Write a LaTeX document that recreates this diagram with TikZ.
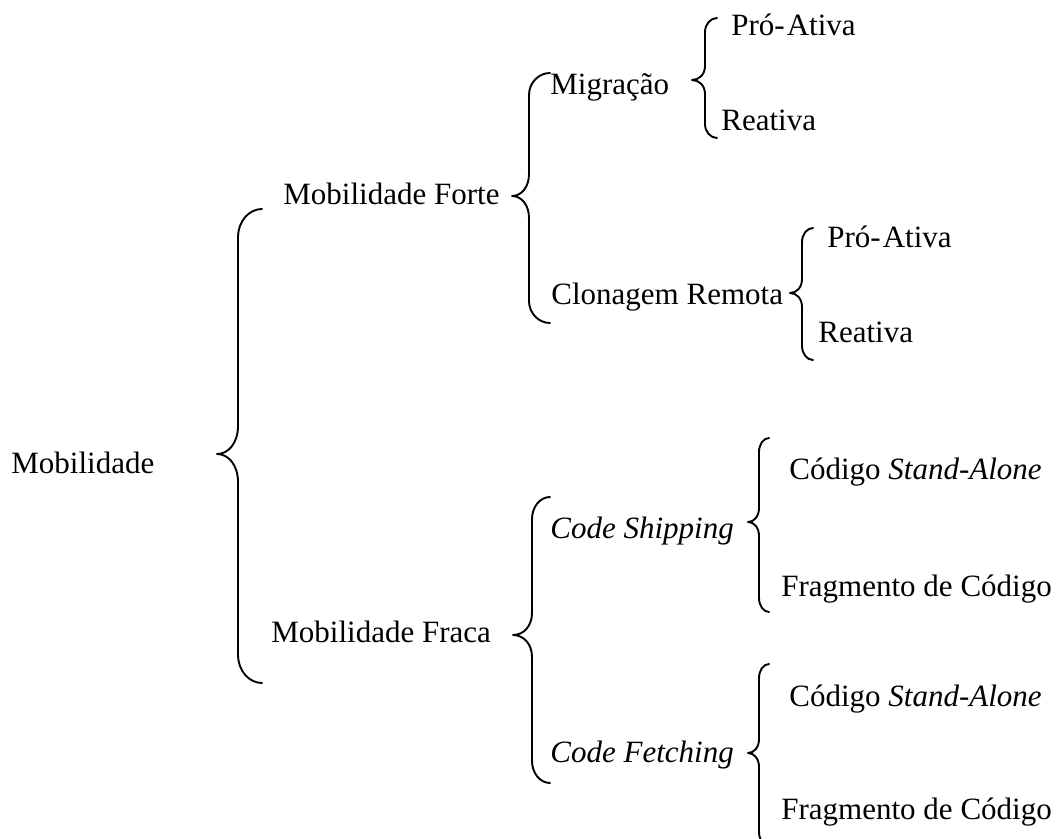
\documentclass[tikz,border=0pt]{standalone}
\usepackage{fontspec}
\setmainfont{Liberation Serif}

% Word-style curly bracket opening to the right.
% #1 end x, #2 spine x, #3 tip x, #4 top y, #5 tip y, #6 bottom y, #7 bend radius
\newcommand{\curlybracket}[7]{%
  \draw[bracestroke]
    (#1,#4) .. controls ({#2+0.45*(#1-#2)},#4) and (#2,{#4+0.45*#7}) .. (#2,{#4+#7})
    -- (#2,{#5-#7})
    .. controls (#2,{#5-0.4*#7}) and ({#2-0.45*(#2-#3)},#5) .. (#3,#5)
    .. controls ({#2-0.45*(#2-#3)},#5) and (#2,{#5+0.4*#7}) .. (#2,{#5+#7})
    -- (#2,{#6-#7})
    .. controls (#2,{#6-0.45*#7}) and ({#2+0.45*(#1-#2)},#6) .. (#1,#6);}

\begin{document}
\begin{tikzpicture}[x=0.5pt,y=-0.5pt,
  label/.style={anchor=base west,inner sep=0pt,font=\fontsize{15.5}{18}\selectfont},
  bracestroke/.style={line width=0.95pt,line cap=round,line join=round}]
\useasboundingbox (0,0) rectangle (1064,839);
\clip (0,0) rectangle (1064,839);

% labels, level by level
\node[label] (mob)    at (11,473)  {Mobilidade};
\node[label] (forte)  at (283,205) {Mobilidade Forte};
\node[label] (fraca)  at (271,642) {Mobilidade Fraca};
\node[label] (migr)   at (550,95)  {Migração};
\node[label] (clon)   at (551,305) {Clonagem Remota};
\node[label] (pro1)   at (731,36)  {Pró-\kern1pt Ativa};
\node[label] (rea1)   at (721,131) {Reativa};
\node[label] (pro2)   at (827,248) {Pró-\kern1pt Ativa};
\node[label] (rea2)   at (818,343) {Reativa};
\node[label] (ship)   at (550,538) {\itshape Code Shipping};
\node[label] (fetch)  at (550,762) {\itshape Code Fetching};
\node[label] (sa1)    at (789,479) {Código \textit{Stand-Alone}};
\node[label] (frag1)  at (781,596) {Fragmento de Código};
\node[label] (sa2)    at (789,706) {Código \textit{Stand-Alone}};
\node[label] (frag2)  at (781,819) {Fragmento de Código};

% brackets joining each item to its subdivisions
\curlybracket{262}{238}{217}{209}{454}{683}{28}
\curlybracket{550}{529}{512}{73}{196}{323}{22}
\curlybracket{717}{705}{692}{18}{80}{138}{14}
\curlybracket{813}{802}{790}{228}{293}{360}{14}
\curlybracket{550}{532}{513}{497}{635}{783}{22}
\curlybracket{769}{759}{748}{438}{522}{612}{14}
\curlybracket{769}{759}{748}{664}{753}{846}{14}
\end{tikzpicture}
\end{document}
